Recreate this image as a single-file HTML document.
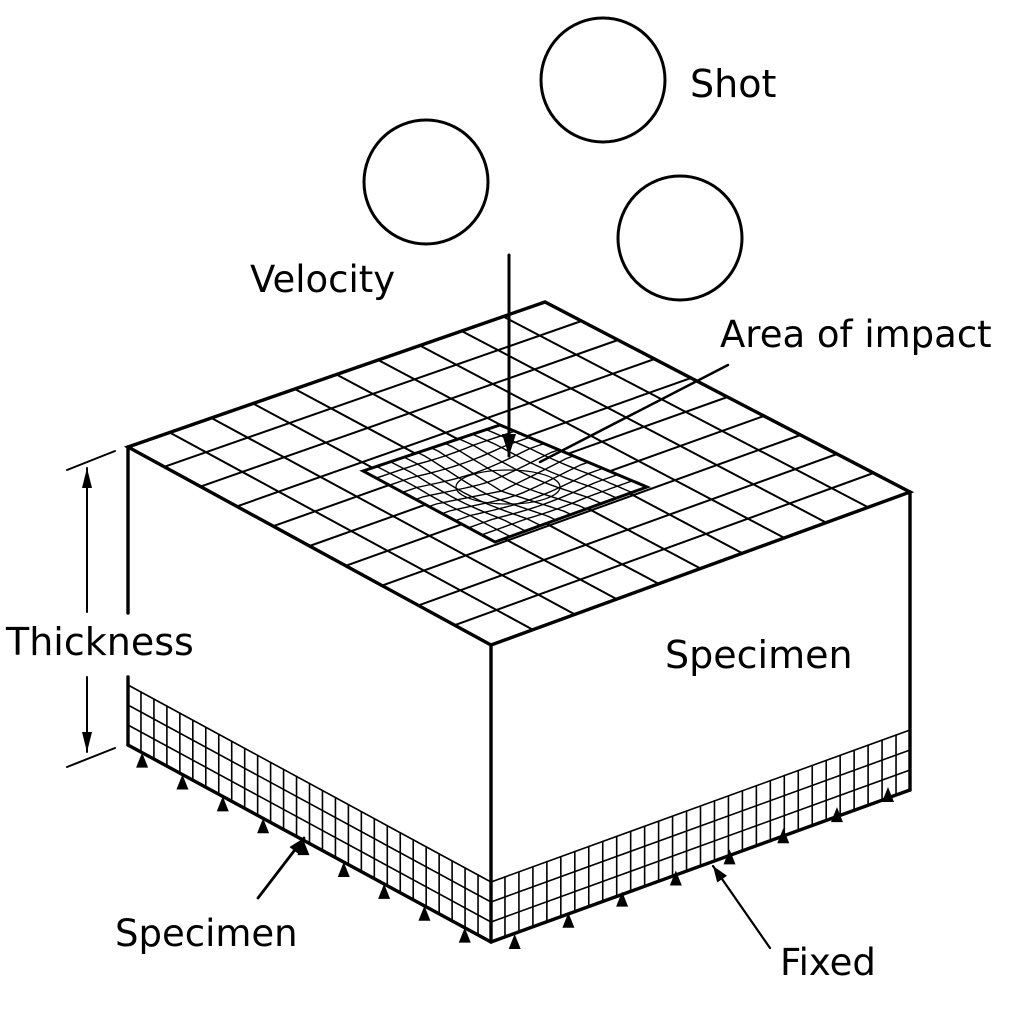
<!DOCTYPE html>
<html><head><meta charset="utf-8"><style>
html,body{margin:0;padding:0;background:#fff;}
svg{display:block}
text{font-family:"DejaVu Sans","Liberation Sans",sans-serif;fill:#000}
</style></head><body>
<svg id="s" width="1024" height="1024" viewBox="0 0 1024 1024" xmlns="http://www.w3.org/2000/svg">
<rect width="1024" height="1024" fill="#fff"/>
<g id="g" stroke="#000" fill="none" stroke-linecap="round"></g>
<circle cx="426" cy="182" r="62" fill="none" stroke="#000" stroke-width="3"/>
<circle cx="603" cy="80" r="62" fill="none" stroke="#000" stroke-width="3"/>
<circle cx="680" cy="238" r="62" fill="none" stroke="#000" stroke-width="3"/>
<text x="690" y="97" font-size="38">Shot</text>
<text x="250" y="292" font-size="37">Velocity</text>
<text x="720" y="347" font-size="37">Area of impact</text>
<text x="6" y="655" font-size="38">Thickness</text>
<text x="665" y="668" font-size="38">Specimen</text>
<text x="115" y="946" font-size="37">Specimen</text>
<text x="780" y="975" font-size="37">Fixed</text>
</svg>
<script>
var g=document.getElementById('g');
function L(x1,y1,x2,y2,w){var e=document.createElementNS('http://www.w3.org/2000/svg','line');e.setAttribute('x1',x1);e.setAttribute('y1',y1);e.setAttribute('x2',x2);e.setAttribute('y2',y2);e.setAttribute('stroke-width',w||1.6);g.appendChild(e);}
function P(pts,fill,w){var e=document.createElementNS('http://www.w3.org/2000/svg','polygon');e.setAttribute('points',pts.map(function(p){return p.join(',')}).join(' '));e.setAttribute('fill',fill||'none');e.setAttribute('stroke-width',w||0);if(!w)e.setAttribute('stroke','none');g.appendChild(e);}
function bil(a,b,c,d,u,v){
 var x=(1-u)*(1-v)*a[0]+u*(1-v)*b[0]+u*v*c[0]+(1-u)*v*d[0];
 var y=(1-u)*(1-v)*a[1]+u*(1-v)*b[1]+u*v*c[1]+(1-u)*v*d[1];return [x,y];}
var A=[128,447],B=[545,302],C=[910,492],D=[491,645];
var N=10;
for(var i=1;i<N;i++){var t=i/N;
 var p=bil(A,B,C,D,t,0),q=bil(A,B,C,D,t,1);L(p[0],p[1],q[0],q[1],2);
 p=bil(A,B,C,D,0,t);q=bil(A,B,C,D,1,t);L(p[0],p[1],q[0],q[1],2);}
var a=[363,471],b=[500,425],c=[647,487],d=[495,542];
P([a,b,c,d],'#fff',0);
var M=10;
function pp(u,v){var p=bil(a,b,c,d,u,v);var du=u-0.5,dv=v-0.5;var r=Math.sqrt(du*du+dv*dv);var k=Math.max(0,0.45-r);p[1]+=k*22;p[0]+=du*k*10;return p;}
for(var i=1;i<M;i++){var t=i/M;
 var s1='',s2='';
 for(var j=0;j<=20;j++){var s=j/20;var p=pp(t,s);s1+=(j?'L':'M')+p[0].toFixed(1)+','+p[1].toFixed(1);p=pp(s,t);s2+=(j?'L':'M')+p[0].toFixed(1)+','+p[1].toFixed(1);}
 [s1,s2].forEach(function(s){var e=document.createElementNS('http://www.w3.org/2000/svg','path');e.setAttribute('d',s);e.setAttribute('stroke-width',1.4);g.appendChild(e);});}
var e=document.createElementNS('http://www.w3.org/2000/svg','ellipse');e.setAttribute('cx',508);e.setAttribute('cy',487);e.setAttribute('rx',52);e.setAttribute('ry',17);e.setAttribute('stroke-width',1.2);g.appendChild(e);
P([a,b,c,d],'none',3);
P([A,B,C,D],'none',3.4);
L(128,447,128,613,3.4);L(128,677,128,745,3.4);
L(491,645,491,942,3.4);L(910,492,910,790,3.4);
L(128,745,491,942,3.4);L(491,942,910,790,3.4);
var h=60,rows=3;
function strip(x0,y0,x1,y1,n){
 for(var r=1;r<=rows;r++){var dy=-h*r/rows;L(x0,y0+dy,x1,y1+dy,1.6);}
 for(var i=1;i<n;i++){var t=i/n;var x=x0+(x1-x0)*t,y=y0+(y1-y0)*t;L(x,y,x,y-h,1.6);}}
strip(128,745,491,942,28);strip(491,942,910,790,30);
function tri(x,y){P([[x,y-13],[x-6,y+2],[x+6,y+2]],'#000',0);}
for(var i=0;i<9;i++){var t=(i+0.3)/9;tri(128+363*t+2,745+197*t+14);}
for(var i=0;i<7;i++){var t=(i+0.05)/7;tri(512+(888-512)*t,948+(800-948)*t);}
tri(888,800);
function arrow(x1,y1,x2,y2,w,hl,hw){L(x1,y1,x2,y2,w);var dx=x2-x1,dy=y2-y1,l=Math.hypot(dx,dy);dx/=l;dy/=l;
 P([[x2,y2],[x2-dx*hl-dy*hw,y2-dy*hl+dx*hw],[x2-dx*hl+dy*hw,y2-dy*hl-dx*hw]],'#000',0);}
arrow(509,255,509,456,3,22,7);
L(728,365,540,462,2.5);
arrow(87,612,87,468,2,20,5);
arrow(87,677,87,752,2,20,5);
L(67,470,115,451,2);L(67,767,115,748,2);
arrow(258,898,304,838,2.8,16,6);
arrow(770,948,713,866,2.2,16,6);
</script>
</body></html>
